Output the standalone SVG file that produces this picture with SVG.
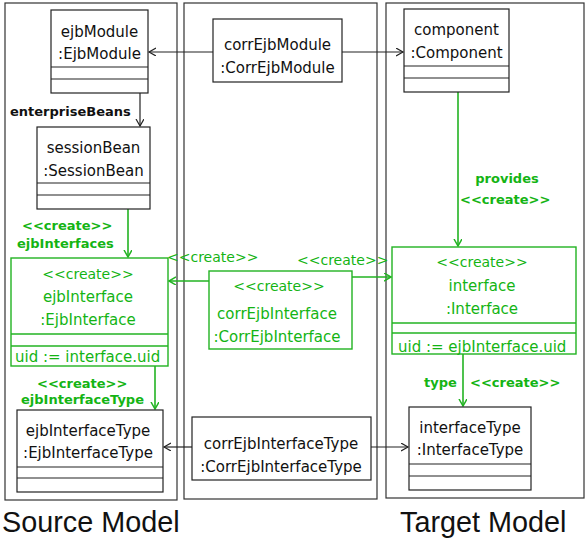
<svg xmlns="http://www.w3.org/2000/svg" width="586" height="538" viewBox="0 0 586 538">
  <style>
    .panel { fill: none; stroke: #333; stroke-width: 1.2; }
    .box { fill: #fff; stroke: #222; stroke-width: 1.2; }
    .gbox { fill: #fff; stroke: #22b322; stroke-width: 1.4; }
    .div { stroke: #222; stroke-width: 1.2; }
    .gdiv { stroke: #22b322; stroke-width: 1.4; }
    .t { font-family: "DejaVu Sans", sans-serif; font-size: 15px; fill: #111; text-anchor: middle; }
    .gt { font-family: "DejaVu Sans", sans-serif; font-size: 15px; fill: #14b414; text-anchor: middle; }
    .gcr { font-family: "DejaVu Sans", sans-serif; font-size: 14px; fill: #14b414; text-anchor: middle; }
    .gl { font-family: "DejaVu Sans", sans-serif; font-size: 15px; fill: #14b414; }
    .gs { font-family: "DejaVu Sans", sans-serif; font-size: 14px; fill: #14b414; }
    .lbl { font-family: "DejaVu Sans", sans-serif; font-size: 13px; font-weight: bold; fill: #111; }
    .glbl { font-family: "DejaVu Sans", sans-serif; font-size: 13px; font-weight: bold; fill: #14b414; }
    .mid { text-anchor: middle; }
    .big { font-family: "Liberation Sans", Arial, sans-serif; font-size: 28.8px; fill: #111; }
    .c { fill: none; stroke: #222; stroke-width: 1.2; marker-end: url(#arr); }
    .gc { fill: none; stroke: #22b322; stroke-width: 1.6; marker-end: url(#garr); }
  </style>
  <defs>
    <marker id="arr" markerUnits="userSpaceOnUse" markerWidth="10" markerHeight="10" refX="7" refY="4" orient="auto">
      <path d="M0,0 L7,4 L0,8" fill="none" stroke="#222" stroke-width="1.2"/>
    </marker>
    <marker id="garr" markerUnits="userSpaceOnUse" markerWidth="10" markerHeight="10" refX="7" refY="4" orient="auto">
      <path d="M0,0 L7,4 L0,8" fill="none" stroke="#22b322" stroke-width="1.5"/>
    </marker>
  </defs>

  <!-- model panels -->
  <g id="panels">
    <rect class="panel" x="5" y="3" width="172" height="497"/>
    <rect class="panel" x="184" y="3" width="193" height="496"/>
    <rect class="panel" x="386" y="3" width="198" height="495"/>
  </g>

  <!-- connectors -->
  <g id="connectors">
    <line class="c" x1="213" y1="52" x2="149" y2="52"/>
    <line class="c" x1="342" y1="52" x2="403" y2="52"/>
    <line class="c" x1="140" y1="93" x2="140" y2="126"/>
    <line class="gc" x1="128" y1="209" x2="128" y2="257"/>
    <line class="gc" x1="458" y1="92" x2="458" y2="246"/>
    <line class="gc" x1="209" y1="281" x2="169" y2="281"/>
    <line class="gc" x1="352" y1="277" x2="391" y2="277"/>
    <line class="gc" x1="155" y1="366" x2="155" y2="409"/>
    <line class="gc" x1="463" y1="354" x2="463" y2="406"/>
    <line class="c" x1="192" y1="447" x2="164" y2="447"/>
    <line class="c" x1="371" y1="447" x2="408" y2="447"/>

    <text class="lbl" x="10" y="116">enterpriseBeans</text>
    <text class="glbl" x="22" y="230">&lt;&lt;create&gt;&gt;</text>
    <text class="glbl" x="17" y="248">ejbInterfaces</text>
    <text class="glbl mid" x="507" y="183">provides</text>
    <text class="glbl" x="460" y="204">&lt;&lt;create&gt;&gt;</text>
    <text class="gs" x="167" y="262">&lt;&lt;create&gt;&gt;</text>
    <text class="gs" x="297" y="265">&lt;&lt;create&gt;&gt;</text>
    <text class="glbl" x="37" y="388">&lt;&lt;create&gt;&gt;</text>
    <text class="glbl" x="21" y="404">ejbInterfaceType</text>
    <text class="glbl" x="424" y="387">type</text>
    <text class="glbl" x="470" y="387">&lt;&lt;create&gt;&gt;</text>
  </g>

  <g id="ejbModule">
    <rect class="box" x="51" y="10" width="97" height="83"/>
    <line class="div" x1="51" y1="67" x2="148" y2="67"/>
    <line class="div" x1="51" y1="79" x2="148" y2="79"/>
    <text class="t" x="99.5" y="37">ejbModule</text>
    <text class="t" x="99.5" y="59">:EjbModule</text>
  </g>

  <g id="sessionBean">
    <rect class="box" x="37" y="127" width="113" height="82"/>
    <line class="div" x1="37" y1="183" x2="150" y2="183"/>
    <line class="div" x1="37" y1="195" x2="150" y2="195"/>
    <text class="t" x="93.5" y="153">sessionBean</text>
    <text class="t" x="93.5" y="176">:SessionBean</text>
  </g>

  <g id="corrEjbModule">
    <rect class="box" x="213" y="19" width="129" height="63"/>
    <text class="t" x="277.5" y="50">corrEjbModule</text>
    <text class="t" x="277.5" y="73">:CorrEjbModule</text>
  </g>

  <g id="component">
    <rect class="box" x="404" y="9" width="105" height="83"/>
    <line class="div" x1="404" y1="66" x2="509" y2="66"/>
    <line class="div" x1="404" y1="78" x2="509" y2="78"/>
    <text class="t" x="456.5" y="35">component</text>
    <text class="t" x="456.5" y="58">:Component</text>
  </g>

  <g id="ejbInterface">
    <rect class="gbox" x="11" y="258" width="157" height="108"/>
    <line class="gdiv" x1="11" y1="334" x2="168" y2="334"/>
    <line class="gdiv" x1="11" y1="346" x2="168" y2="346"/>
    <text class="gcr" x="88" y="279">&lt;&lt;create&gt;&gt;</text>
    <text class="gt" x="88" y="302">ejbInterface</text>
    <text class="gt" x="88" y="325">:EjbInterface</text>
    <text class="gl" x="15" y="362">uid := interface.uid</text>
  </g>

  <g id="corrEjbInterface">
    <rect class="gbox" x="209" y="271" width="143" height="78"/>
    <text class="gcr" x="279" y="291">&lt;&lt;create&gt;&gt;</text>
    <text class="gt" x="277" y="319">corrEjbInterface</text>
    <text class="gt" x="277" y="342">:CorrEjbInterface</text>
  </g>

  <g id="interface">
    <rect class="gbox" x="392" y="247" width="184" height="107"/>
    <line class="gdiv" x1="392" y1="323" x2="576" y2="323"/>
    <line class="gdiv" x1="392" y1="333" x2="576" y2="333"/>
    <text class="gcr" x="482" y="267">&lt;&lt;create&gt;&gt;</text>
    <text class="gt" x="482" y="291">interface</text>
    <text class="gt" x="482" y="314">:Interface</text>
    <text class="gl" x="398" y="352">uid := ejbInterface.uid</text>
  </g>

  <g id="ejbInterfaceType">
    <rect class="box" x="17" y="410" width="146" height="82"/>
    <line class="div" x1="17" y1="467" x2="163" y2="467"/>
    <line class="div" x1="17" y1="478" x2="163" y2="478"/>
    <text class="t" x="88" y="436">ejbInterfaceType</text>
    <text class="t" x="88" y="458">:EjbInterfaceType</text>
  </g>

  <g id="corrEjbInterfaceType">
    <rect class="box" x="192" y="417" width="179" height="63"/>
    <text class="t" x="281" y="449">corrEjbInterfaceType</text>
    <text class="t" x="281" y="472">:CorrEjbInterfaceType</text>
  </g>

  <g id="interfaceType">
    <rect class="box" x="409" y="407" width="122" height="83"/>
    <line class="div" x1="409" y1="464" x2="531" y2="464"/>
    <line class="div" x1="409" y1="476" x2="531" y2="476"/>
    <text class="t" x="470" y="433">interfaceType</text>
    <text class="t" x="470" y="455">:InterfaceType</text>
  </g>

  <g id="captions">
    <text class="big" x="2" y="532">Source Model</text>
    <text class="big" x="400" y="532">Target Model</text>
  </g>
</svg>
